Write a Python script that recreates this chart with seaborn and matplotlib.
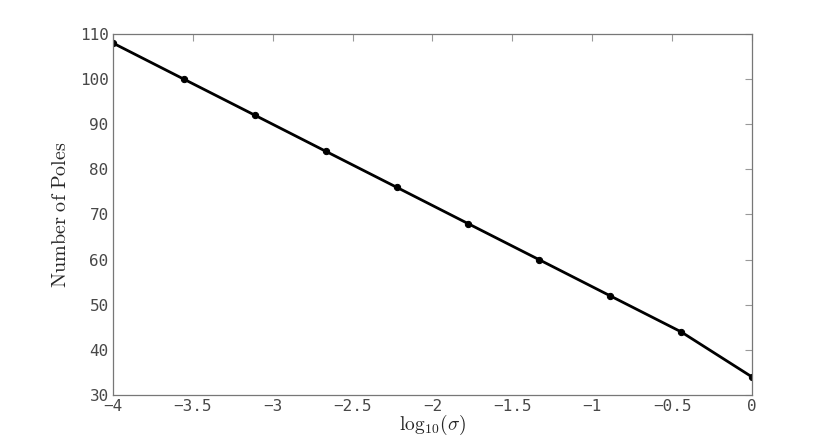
import numpy as np
import pandas as pd
import seaborn as sns
import matplotlib.pyplot as plt

# values
log_sigma = [-4.0, -3.556, -3.111, -2.667, -2.222, -1.778, -1.333, -0.889, -0.444, 0.0]
n_poles = [108, 100, 92, 84, 76, 68, 60, 52, 44, 34]
x_ticks = [-4, -3.5, -3, -2.5, -2, -1.5, -1, -0.5, 0]
y_ticks = [30, 40, 50, 60, 70, 80, 90, 100, 110]

df = pd.DataFrame({'log_sigma': log_sigma, 'poles': n_poles})

sns.set_style('white')
plt.rcParams['mathtext.fontset'] = 'cm'

fig = plt.figure(figsize=(8.3, 4.44), dpi=100)
ax = fig.add_axes([0.136, 0.1104, 0.77, 0.8130])

sns.lineplot(data=df, x='log_sigma', y='poles', ax=ax, color='black',
             linewidth=2, marker='o', markersize=4.5, markeredgecolor='black')

ax.set_xlim(-4, 0)
ax.set_ylim(30, 110)
ax.set_xticks(x_ticks)
ax.set_yticks(y_ticks)
ax.set_xticklabels([('%g' % t).replace('-', '\u2212') for t in x_ticks])
ax.set_yticklabels(['%g' % t for t in y_ticks])

for lab in ax.get_xticklabels() + ax.get_yticklabels():
    lab.set_family('DejaVu Sans Mono')
    lab.set_fontsize(11.5)
    lab.set_color('#484848')

ax.tick_params(direction='in', length=5, width=0.8, color='#999999',
               top=True, right=True, pad=3)
for s in ax.spines.values():
    s.set_color('#777777')
    s.set_linewidth(0.9)

ax.set_xlabel(r'$\mathrm{log}_{10}(\sigma)$', fontsize=14, labelpad=-1)
ax.set_ylabel(r'$\mathrm{Number\ of\ Poles}$', fontsize=14.5, labelpad=7)

fig.savefig('out.png', dpi=100)
